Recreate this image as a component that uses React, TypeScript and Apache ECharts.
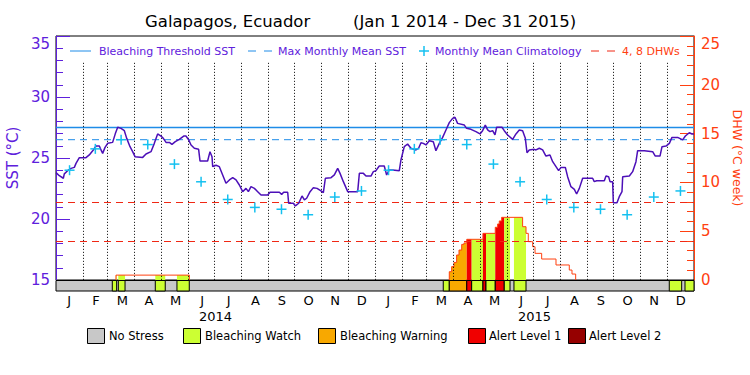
import React, { useEffect, useRef } from 'react';
import * as echarts from 'echarts';

const monthLetters = ['J', 'F', 'M', 'A', 'M', 'J', 'J', 'A', 'S', 'O', 'N', 'D'];
const monthKeys = [
  '2014-01', '2014-02', '2014-03', '2014-04', '2014-05', '2014-06', '2014-07', '2014-08', '2014-09', '2014-10', '2014-11', '2014-12',
  '2015-01', '2015-02', '2015-03', '2015-04', '2015-05', '2015-06', '2015-07', '2015-08', '2015-09', '2015-10', '2015-11', '2015-12',
];
const monthLengths = [31, 28, 31, 30, 31, 30, 31, 31, 30, 31, 30, 31, 31, 28, 31, 30, 31, 30, 31, 31, 30, 31, 30, 31];
const yearLabels = ['2014', '2015'];

// SST trace (day index from Jan 1 2014, degC)
const sstDays = [
  0, 3.8, 8.4, 9.5, 13.3, 17.2, 21.0, 22.9, 26.7, 34.3, 38.1, 42.7, 45.8, 49.6, 51.5, 53.4, 56.1, 59.1, 64.8, 67.9,
  70.6, 74.4, 78.2, 80.9, 84.7, 87.7, 90.4, 99.2, 103.0, 108.7, 112.5, 116.3, 120.1, 122.8, 125.9, 129.7, 132.7, 136.5, 141.1, 146.1,
  148.7, 151.8, 154.5, 158.3, 163.2, 164.8, 173.5, 176.2, 178.5, 179.3, 183.1,
  186.9, 190.7, 194.5, 198.4, 202.2, 206.0, 209.8, 213.6, 217.4, 220.1, 223.1, 227.0, 230.8, 234.6, 242.2, 244.9, 255.6, 258.2, 260.5, 265.1,
  266.2, 271.6, 273.9, 277.7, 281.5, 284.2, 286.8, 290.7, 294.5, 298.7, 303.2, 305.9, 308.2, 314.7, 318.5, 322.3, 325.0, 328.8, 333.8, 345.2,
  347.1, 351.7, 354.7, 360.4, 363.1, 366.1,
  369.9, 375.6, 378.3, 381.4, 385.2, 392.8, 394.7, 398.5, 402.3, 406.1, 411.9, 414.9, 417.6, 420.3, 423.3, 427.1, 431.7, 434.7, 438.6, 442.4,
  446.2, 450.0, 453.8, 456.5, 459.5, 467.2, 469.8, 474.8, 480.5, 485.1, 488.1, 491.2, 493.9, 496.5, 499.6, 502.3, 504.2, 510.3, 512.9, 516.8,
  522.5, 526.3, 530.1, 533.9, 537.0, 538.9, 541.5, 547.3, 549.2,
  553.0, 556.8, 560.6, 565.2, 568.3, 572.1, 575.1, 577.8, 582.8, 585.4, 589.2, 593.1, 595.7, 598.8, 602.6, 614.0, 615.9, 618.6, 627.4, 629.3,
  632.3, 633.9, 636.9, 637.7, 641.9, 644.5, 647.6, 648.4, 656.0, 659.8, 663.6, 665.5, 673.2, 682.7, 685.7, 691.1, 693.4, 697.9, 701.8, 704.8,
  711.3, 717.0, 720.1, 724.6, 727.7, 730,
];
const sstValues = [
  23.8, 23.55, 23.34, 23.7, 23.96, 24.15, 24.23, 24.56, 25.03, 25.03, 25.25, 25.66, 25.98, 25.98, 25.66, 25.38, 25.87, 26.2, 26.28, 27.0,
  27.52, 27.43, 27.24, 26.61, 25.93, 25.52, 25.11, 25.05, 25.33, 25.52, 26.2, 26.97, 26.8, 26.61, 26.28, 26.28, 26.12, 26.34, 26.53, 26.8,
  26.8, 26.48, 26.07, 25.8, 25.71, 24.75, 24.75, 25.52, 25.11, 24.29, 24.4,
  24.29, 23.61, 22.93, 23.2, 23.39, 23.2, 22.79, 22.24, 22.51, 22.24, 22.65, 22.51, 22.24, 21.97, 21.97, 22.19, 22.19, 22.02, 22.19, 22.19,
  21.29, 21.29, 21.07, 21.29, 21.89, 21.56, 21.7, 22.24, 22.57, 22.51, 22.3, 22.16, 23.34, 23.39, 23.61, 24.15, 23.74, 23.06, 22.24, 22.24,
  23.74, 23.74, 23.52, 23.52, 23.88, 23.96,
  24.34, 24.34, 23.61, 24.02, 24.02, 23.96, 24.84, 25.93, 26.15, 25.8, 25.66, 25.8, 26.25, 26.2, 26.07, 26.42, 26.34, 25.6, 26.2, 26.69,
  27.3, 27.9, 28.25, 28.34, 27.84, 27.7, 27.43, 27.35, 27.16, 26.97, 27.24, 27.7, 27.3, 27.16, 27.24, 26.89, 27.52, 27.52, 27.24, 26.89,
  26.53, 26.97, 27.3, 27.24, 26.61, 25.43, 25.66, 25.71, 25.66,
  25.8, 25.66, 25.16, 25.25, 24.7, 24.29, 23.96, 24.23, 24.23, 23.47, 22.65, 22.43, 22.05, 22.51, 23.34, 23.34, 23.06, 23.14, 23.14, 23.52,
  23.47, 23.06, 23.06, 21.34, 21.34, 21.83, 22.24, 23.47, 23.52, 23.88, 24.7, 25.6, 25.6, 25.52, 25.16, 25.16, 25.93, 25.98, 26.2, 26.69,
  26.69, 26.48, 26.8, 27.07, 26.97, 26.97,
];

const climatology = [24.0, 25.75, 26.5, 26.1, 24.5, 23.05, 21.6, 20.95, 20.8, 20.35, 21.8, 22.3];
const bleachingThreshold = 27.5;
const maxMonthlyMean = 26.5;
const dhwLevels = [4, 8];

// Degree heating weeks: value holds from each day until the next one
const dhwDays = [68.6, 152.6, 450.0, 452.7, 455.4, 458.4, 461.1, 464.2, 466.8, 470.0, 488.5, 502.6, 505.3, 507.2, 509.9, 533.9, 537.8, 540.4, 545.4, 548.1, 555.7, 572.1, 587.3, 590.4, 594.6];
const dhwValues = [0.5, 0, 0.85, 1.37, 1.8, 2.56, 3.07, 3.65, 3.8, 4.17, 4.78, 5.4, 5.74, 6.05, 6.42, 5.46, 4.78, 3.93, 3.41, 2.73, 2.15, 1.54, 1.02, 0.61, 0];

// Stress level periods (1 watch, 2 warning, 3 alert 1, 4 alert 2)
const stressStart = [64.4, 71.3, 113.6, 138.4, 443.1, 450.0, 470.0, 475.6, 488.5, 492.0, 502.6, 512.9, 524.0, 701.7, 719.7];
const stressEnd = [69.4, 79.0, 125.0, 152.5, 450.0, 470.0, 475.6, 488.5, 492.0, 502.6, 512.9, 519.5, 537.8, 715.9, 730];
const stressLevel = [1, 1, 1, 1, 1, 2, 3, 1, 3, 1, 3, 1, 1, 1, 1];

const stressNames = ['No Stress', 'Bleaching Watch', 'Bleaching Warning', 'Alert Level 1', 'Alert Level 2'];
const stressColors = ['#c8c8c8', '#ccff33', '#f8a800', '#f00000', '#960000'];

const FONT = 'DejaVu Sans';
const PURPLE_LINE = '#4c0fb8';
const PURPLE = '#5e20dc';
const BLUE = '#1e8ce8';
const CYAN = '#14c0f0';
const RED = '#f02814';
const ORANGE_RED = '#ff4010';

function dhwAt(d: number): number {
  let v = 0;
  for (let i = 0; i < dhwDays.length; i++) {
    if (dhwDays[i] <= d + 1e-9) v = dhwValues[i];
  }
  return v;
}

export default function App() {
  const ref = useRef<HTMLDivElement>(null);

  useEffect(() => {
    if (!ref.current) return;
    const chart = echarts.init(ref.current, null, { renderer: 'svg' });

    const totalDays = monthLengths.reduce((a, b) => a + b, 0);
    const monthStarts: number[] = [];
    let acc = 0;
    monthLengths.forEach((l) => {
      monthStarts.push(acc);
      acc += l;
    });
    const boundaries = monthStarts.slice(1);
    const climData = monthKeys.map((_, i) => [monthStarts[i] + monthLengths[i] / 2, climatology[i % 12]]);
    const sstData = sstDays.map((d, i) => [d, sstValues[i]]);

    const outline: any[] = [];
    let prev = 0;
    dhwDays.forEach((d, i) => {
      const v = dhwValues[i];
      if (prev === 0) outline.push([d, 0]);
      outline.push([d, v]);
      if (v === 0) outline.push([d, '-']);
      prev = v;
    });

    const stressData = stressStart.map((s, i) => [s, stressEnd[i], stressLevel[i]]);
    const barData = [[0, totalDays, 0], ...stressData];

    const legendY = 51;
    const bottomBoxX = [87, 183, 318, 468, 568];
    const bottomTextX = [109, 205, 340, 489, 589];

    const graphic: any[] = [
      { type: 'text', x: 145, y: 21, style: { text: 'Galapagos, Ecuador', fill: '#000', fontSize: 16.5, fontFamily: FONT, verticalAlign: 'middle' } },
      { type: 'text', x: 353, y: 21, style: { text: '(Jan 1 2014 - Dec 31 2015)', fill: '#000', fontSize: 16.5, fontFamily: FONT, verticalAlign: 'middle' } },
      { type: 'line', shape: { x1: 70, y1: legendY, x2: 91, y2: legendY }, style: { stroke: BLUE, lineWidth: 1 } },
      { type: 'text', x: 99, y: legendY, style: { text: 'Bleaching Threshold SST', fill: PURPLE, fontSize: 11, fontFamily: FONT, verticalAlign: 'middle' } },
      { type: 'line', shape: { x1: 248, y1: legendY, x2: 272, y2: legendY }, style: { stroke: BLUE, lineWidth: 1, lineDash: [8, 8] } },
      { type: 'text', x: 278, y: legendY, style: { text: 'Max Monthly Mean SST', fill: PURPLE, fontSize: 11, fontFamily: FONT, verticalAlign: 'middle' } },
      { type: 'line', shape: { x1: 419, y1: legendY, x2: 429, y2: legendY }, style: { stroke: CYAN, lineWidth: 1.5 } },
      { type: 'line', shape: { x1: 424, y1: legendY - 5, x2: 424, y2: legendY + 5 }, style: { stroke: CYAN, lineWidth: 1.5 } },
      { type: 'text', x: 435, y: legendY, style: { text: 'Monthly Mean Climatology', fill: PURPLE, fontSize: 11, fontFamily: FONT, verticalAlign: 'middle' } },
      { type: 'line', shape: { x1: 591, y1: legendY, x2: 616, y2: legendY }, style: { stroke: RED, lineWidth: 1, lineDash: [8, 8] } },
      { type: 'text', x: 622, y: legendY, style: { text: '4, 8 DHWs', fill: ORANGE_RED, fontSize: 11, fontFamily: FONT, verticalAlign: 'middle' } },
    ];
    stressNames.forEach((name, i) => {
      graphic.push({ type: 'rect', shape: { x: bottomBoxX[i] + 0.5, y: 328.5, width: 17, height: 15 }, style: { fill: stressColors[i], stroke: '#000', lineWidth: 1 } });
      graphic.push({ type: 'text', x: bottomTextX[i], y: 336, style: { text: name, fill: '#000', fontSize: 11.5, fontFamily: FONT, verticalAlign: 'middle' } });
    });

    const option: any = {
      animation: false,
      backgroundColor: '#fff',
      textStyle: { fontFamily: FONT },
      grid: [
        { left: 56, right: 56, top: 36, height: 244, show: true, borderColor: '#000', borderWidth: 1, backgroundColor: 'transparent', outerBoundsMode: 'none' },
        { left: 56, right: 56, top: 280, height: 11, show: false, outerBoundsMode: 'none' },
      ],
      xAxis: [
        { type: 'value', gridIndex: 0, min: 0, max: totalDays, show: false },
        { type: 'value', gridIndex: 1, min: 0, max: totalDays, show: false, position: 'bottom' },
        {
          type: 'category', gridIndex: 1, data: monthKeys, position: 'bottom', boundaryGap: true,
          axisLine: { show: false }, axisTick: { show: false }, splitLine: { show: false },
          axisLabel: { interval: 0, color: '#000', fontSize: 13, margin: 3, formatter: (_v: string, i: number) => monthLetters[i % 12] },
        },
        {
          type: 'category', gridIndex: 1, data: yearLabels, position: 'bottom', offset: 16, boundaryGap: true,
          axisLine: { show: false }, axisTick: { show: false }, splitLine: { show: false },
          axisLabel: { interval: 0, color: '#000', fontSize: 13, margin: 3 },
        },
      ],
      yAxis: [
        {
          type: 'value', gridIndex: 0, position: 'left', min: 15, max: 35, interval: 5,
          axisLine: { show: true, lineStyle: { color: PURPLE, width: 1 } },
          axisTick: { show: true, inside: true, length: 14, lineStyle: { color: PURPLE } },
          minorTick: { show: true, splitNumber: 5, length: 7, lineStyle: { color: PURPLE } },
          splitLine: { show: false },
          axisLabel: { color: PURPLE, fontSize: 15, margin: 6, verticalAlignMaxLabel: 'top' },
          name: 'SST (°C)', nameLocation: 'middle', nameGap: 31,
          nameTextStyle: { color: PURPLE, fontSize: 15 },
        },
        {
          type: 'value', gridIndex: 0, position: 'right', min: 0, max: 25, interval: 5,
          axisLine: { show: true, lineStyle: { color: ORANGE_RED, width: 1 } },
          axisTick: { show: true, inside: true, length: 14, lineStyle: { color: ORANGE_RED } },
          minorTick: { show: true, splitNumber: 5, length: 7, lineStyle: { color: ORANGE_RED } },
          splitLine: { show: false },
          axisLabel: { color: ORANGE_RED, fontSize: 15, margin: 7, verticalAlignMaxLabel: 'top' },
          name: 'DHW (°C week)', nameLocation: 'middle', nameGap: 30, nameRotate: -90,
          nameTextStyle: { color: ORANGE_RED, fontSize: 12.5 },
        },
        { type: 'value', gridIndex: 1, min: 0, max: 1, show: false },
      ],
      series: [
        {
          type: 'custom', name: 'stress bar', xAxisIndex: 1, yAxisIndex: 2, z: 2,
          data: barData,
          renderItem: (_p: any, api: any) => {
            const a = api.coord([api.value(0), 1]);
            const b = api.coord([api.value(1), 0]);
            return {
              type: 'rect',
              shape: { x: a[0], y: a[1] + 0.5, width: b[0] - a[0], height: b[1] - a[1] - 0.5 },
              style: { fill: stressColors[api.value(2)], stroke: '#000', lineWidth: 1 },
            };
          },
        },
        {
          type: 'custom', name: 'dhw fill', xAxisIndex: 0, yAxisIndex: 1, z: 2,
          data: stressData,
          renderItem: (_p: any, api: any) => {
            const s = api.value(0);
            const e = api.value(1);
            const lvl = api.value(2);
            const pts: number[][] = [[s, 0]];
            let cur = dhwAt(s);
            pts.push([s, cur]);
            dhwDays.forEach((b, i) => {
              if (b > s && b < e) {
                pts.push([b, cur]);
                cur = dhwValues[i];
                pts.push([b, cur]);
              }
            });
            pts.push([e, cur]);
            pts.push([e, 0]);
            return {
              type: 'polygon',
              shape: { points: pts.map((p) => api.coord(p)) },
              style: { fill: stressColors[lvl] },
            };
          },
        },
        {
          type: 'line', name: 'DHW', xAxisIndex: 0, yAxisIndex: 1, z: 3,
          data: outline, step: 'end', symbol: 'none', connectNulls: false,
          lineStyle: { color: ORANGE_RED, width: 1 },
          markLine: {
            silent: true, symbol: ['none', 'none'], label: { show: false },
            lineStyle: { color: RED, type: [7, 5], width: 1 },
            data: dhwLevels.map((v) => ({ yAxis: v })),
          },
        },
        {
          type: 'line', name: 'Max Monthly Mean SST', xAxisIndex: 0, yAxisIndex: 0, z: 4,
          data: [[0, maxMonthlyMean], [totalDays, maxMonthlyMean]], symbol: 'none',
          lineStyle: { color: BLUE, width: 1, type: [7, 5] },
          markLine: {
            silent: true, symbol: ['none', 'none'], label: { show: false },
            lineStyle: { color: BLUE, type: 'solid', width: 1.3 },
            data: [{ yAxis: bleachingThreshold }],
          },
        },
        {
          type: 'line', name: 'SST', xAxisIndex: 0, yAxisIndex: 0, z: 5,
          data: sstData, symbol: 'none',
          lineStyle: { color: PURPLE_LINE, width: 1.5 },
          markLine: {
            silent: true, symbol: ['none', 'none'], label: { show: false },
            lineStyle: { color: '#000', type: [1, 2], width: 1 },
            data: boundaries.map((d) => [{ coord: [d, 32.8] }, { coord: [d, 15] }]),
          },
        },
        {
          type: 'custom', name: 'Monthly Mean Climatology', xAxisIndex: 0, yAxisIndex: 0, z: 6,
          data: climData,
          renderItem: (_p: any, api: any) => {
            const p = api.coord([api.value(0), api.value(1)]);
            const st = { stroke: CYAN, lineWidth: 1.5 };
            return {
              type: 'group',
              children: [
                { type: 'line', shape: { x1: p[0] - 5, y1: p[1], x2: p[0] + 5, y2: p[1] }, style: st },
                { type: 'line', shape: { x1: p[0], y1: p[1] - 5, x2: p[0], y2: p[1] + 5 }, style: st },
              ],
            };
          },
        },
      ],
      graphic,
    };

    chart.setOption(option);
    return () => chart.dispose();
  }, []);

  return (
    <div
      ref={ref}
      style={{ position: 'fixed', left: 0, top: 0, width: 750, height: 375, background: '#fff' }}
    />
  );
}
